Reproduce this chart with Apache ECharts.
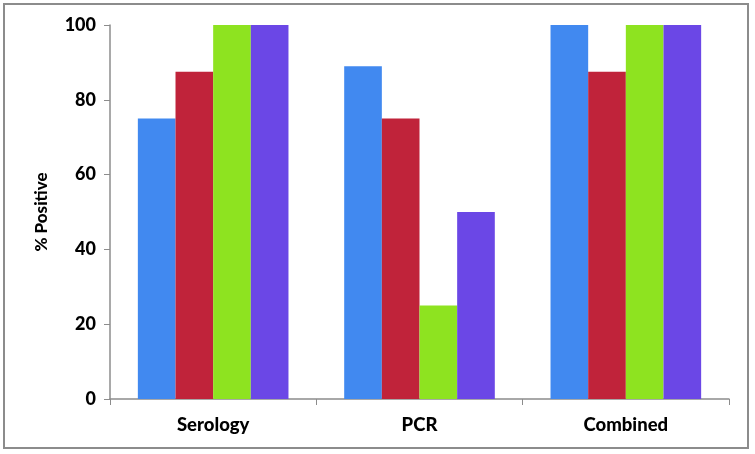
<!DOCTYPE html>
<html>
<head>
<meta charset="utf-8">
<script src="https://cdn.jsdelivr.net/npm/echarts@6/dist/echarts.min.js"></script>
<style>
  html, body { margin: 0; padding: 0; background: #fff; }
  #chart { width: 755px; height: 454px; }
  .frame {
    position: absolute; left: 3px; top: 3px; width: 746px; height: 446px;
    border: 2px solid #8c8c8c; pointer-events: none; box-sizing: border-box;
  }
</style>
</head>
<body>
<div id="chart"></div>
<div class="frame"></div>
<script>
// categories and values
const categories = ['Serology', 'PCR', 'Combined']
const blueValues = [75, 89, 100]
const redValues = [87.5, 75, 87.5]
const greenValues = [100, 25, 100]
const purpleValues = [100, 50, 100]
const colors = ['#4189f0', '#c0233a', '#8ee320', '#6b47e6']

const chart = echarts.init(document.getElementById('chart'))

function bar(data, color) {
  return {
    type: 'bar',
    data: data,
    barGap: 0,
    barCategoryGap: '27%',
    itemStyle: { color: color },
    animation: false
  }
}

chart.setOption({
  textStyle: { fontFamily: 'Lato' },
  grid: { left: 110, right: 26, top: 25, bottom: 55 },
  xAxis: {
    type: 'category',
    data: categories,
    axisLine: { lineStyle: { color: '#8c8c8c', width: 1.5 } },
    axisTick: { show: true, length: 6, lineStyle: { color: '#8c8c8c' } },
    axisLabel: { color: '#000', fontWeight: 900, fontSize: 18.5, margin: 17 }
  },
  yAxis: {
    type: 'value',
    min: 0,
    max: 100,
    interval: 20,
    name: '% Positive',
    nameLocation: 'middle',
    nameGap: 60,
    nameTextStyle: { color: '#000', fontWeight: 900, fontSize: 17 },
    axisLine: { show: true, lineStyle: { color: '#8c8c8c', width: 1.5 } },
    axisTick: { show: true, length: 6, lineStyle: { color: '#8c8c8c' } },
    splitLine: { show: false },
    axisLabel: { color: '#000', fontWeight: 900, fontSize: 18, margin: 14 }
  },
  series: [
    bar(blueValues, colors[0]),
    bar(redValues, colors[1]),
    bar(greenValues, colors[2]),
    bar(purpleValues, colors[3])
  ]
})
</script>
</body>
</html>
